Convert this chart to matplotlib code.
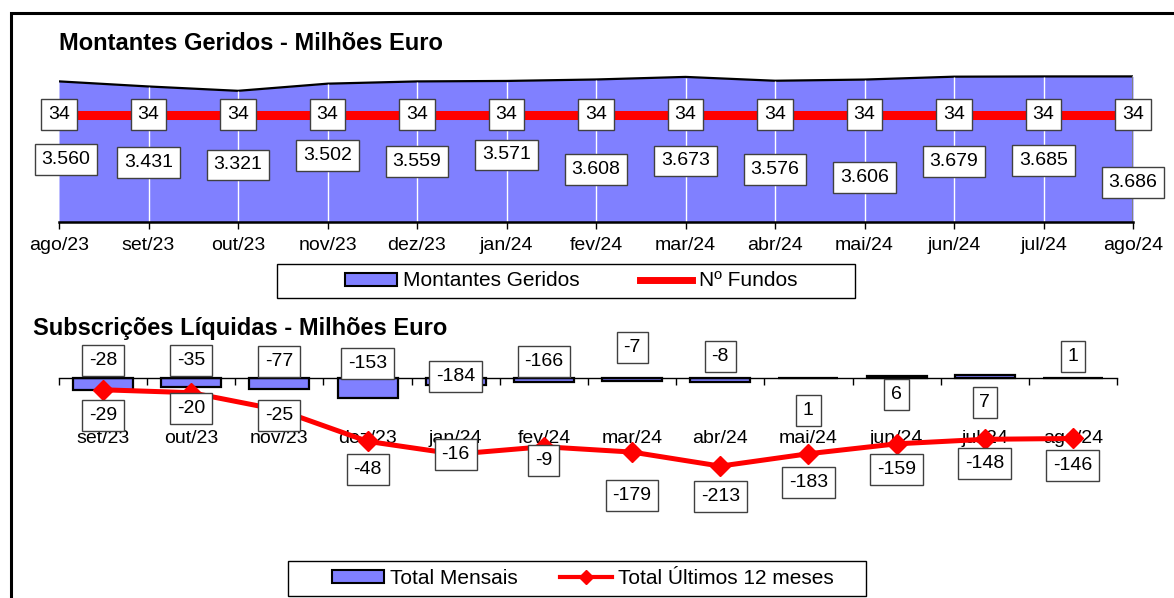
import numpy as np
import matplotlib.pyplot as plt
from matplotlib.patches import Rectangle, Patch
from matplotlib.lines import Line2D

plt.rcParams['font.family'] = ['Liberation Sans', 'DejaVu Sans']

# dados - montantes geridos
meses_top = ["ago/23", "set/23", "out/23", "nov/23", "dez/23", "jan/24", "fev/24",
             "mar/24", "abr/24", "mai/24", "jun/24", "jul/24", "ago/24"]
montantes = [3560, 3431, 3321, 3502, 3559, 3571, 3608, 3673, 3576, 3606, 3679, 3685, 3686]
n_fundos = [34, 34, 34, 34, 34, 34, 34, 34, 34, 34, 34, 34, 34]

# dados - subscricoes liquidas
meses_bot = ["set/23", "out/23", "nov/23", "dez/23", "jan/24", "fev/24",
             "mar/24", "abr/24", "mai/24", "jun/24", "jul/24", "ago/24"]
total_mensais = [-29, -20, -25, -48, -16, -9, -7, -8, 1, 6, 7, 1]
total_12m = [-28, -35, -77, -153, -184, -166, -179, -213, -183, -159, -148, -146]

# posicao das etiquetas (pixels abaixo do ponto / da linha do zero)
mont_lab_dy = [78, 76, 74, 72, 80, 74, 90, 84, 89, 98, 85, 84, 106]
mont_lab_dx = [7, 0, 0, 0, 0, 0, 0, 0, 0, 0, 0, 0, 0]
bar_lab_dy = [37, 30, 37, 91, 76, 82, -31, -22, 32, 16, 24, -22]
line_lab_dy = [-18, -18, -17, -15, -2, -17, 117, 118, 104, 91, 85, 87]

W, H = 1174, 598
azul = '#8080FF'
fs = 14
box = dict(boxstyle='square,pad=0.35', fc='white', ec='#404040', lw=1)

def fx(px):
    return px / W

def fy(py):
    return 1 - py / H

fig = plt.figure(figsize=(W / 100, H / 100), dpi=100)

# ---------- grafico de cima ----------
ax1 = fig.add_axes([fx(59), fy(222), fx(1133) - fx(59), fy(64) - fy(222)])
x1 = np.arange(len(montantes))
ax1.fill_between(x1, 0, montantes, color=azul, lw=0, zorder=1)
ax1.plot(x1, montantes, color='black', lw=1.6, zorder=2)
ax1.vlines(x1[1:-1], 0, np.array(montantes[1:-1]) - 15, color='white', lw=1, zorder=2)
ax1.vlines(x1[-1], 0, montantes[-1], color='#808080', lw=1.5, zorder=2)
ax1.set_xlim(0, 12)
ax1.set_ylim(0, 4000)
ax1.set_yticks([])
for s in ['left', 'right', 'top']:
    ax1.spines[s].set_visible(False)
ax1.spines['bottom'].set_linewidth(1.8)
ax1.set_xticks(x1, meses_top, fontsize=fs)
ax1.tick_params(axis='x', length=5, width=1, pad=6)
for i, v in enumerate(montantes):
    ax1.annotate(f"{v:,}".replace(',', '.'), (i, v),
                 xytext=(mont_lab_dx[i], -mont_lab_dy[i]),
                 textcoords='offset pixels', ha='center', va='center', fontsize=fs,
                 bbox=box, annotation_clip=False, zorder=5)

ax1b = ax1.twinx()
ax1b.plot(x1, n_fundos, color='red', lw=6.5, zorder=3)
ax1b.set_ylim(0, 50)
ax1b.set_yticks([])
for s in ax1b.spines.values():
    s.set_visible(False)
for i, v in enumerate(n_fundos):
    ax1b.annotate(str(v), (i, v), ha='center', va='center', fontsize=fs,
                  bbox=box, annotation_clip=False, zorder=5)

fig.text(fx(59), fy(44), "Montantes Geridos - Milhões Euro", fontsize=17,
         fontweight='bold', va='center')

fig.add_artist(Rectangle((fx(277), fy(298)), fx(855) - fx(277), fy(264) - fy(298),
                         transform=fig.transFigure, fill=False, ec='black', lw=1))
h1 = [Patch(fc=azul, ec='black', lw=1.5), Line2D([], [], color='red', lw=5)]
fig.legend(h1, ["Montantes Geridos", "Nº Fundos"], loc='center', ncol=2,
           bbox_to_anchor=(fx(571), fy(281)), frameon=False, fontsize=15,
           handlelength=2.5, handleheight=0.6, handletextpad=0.3, columnspacing=2.9)

# ---------- grafico de baixo ----------
ax2 = fig.add_axes([fx(59), fy(502), fx(1117) - fx(59), fy(337) - fy(502)])
x2 = np.arange(len(total_mensais))
ax2.bar(x2, total_mensais, width=0.68, color=azul, ec='black', lw=1.6, zorder=2)
ax2.plot(x2, total_12m, color='red', lw=3.6, marker='D', ms=10, zorder=3)
ax2.set_xlim(-0.5, 11.5)
ax2.set_ylim(-300, 100)
ax2.set_yticks([])
for s in ['left', 'right', 'top']:
    ax2.spines[s].set_visible(False)
ax2.spines['bottom'].set_position(('data', 0))
ax2.spines['bottom'].set_linewidth(1)
ax2.set_xticks(x2, meses_bot, fontsize=fs)
ax2.tick_params(axis='x', which='major', length=0, pad=37)
ax2.set_xticks(np.arange(-0.5, 12), minor=True)
ax2.tick_params(axis='x', which='minor', length=5, width=1)
for i in x2:
    ax2.annotate(str(total_mensais[i]), (i, 0), xytext=(0, -bar_lab_dy[i]),
                 textcoords='offset pixels', ha='center', va='center', fontsize=fs,
                 bbox=box, annotation_clip=False, zorder=5)
    ax2.annotate(str(total_12m[i]), (i, 0), xytext=(0, -line_lab_dy[i]),
                 textcoords='offset pixels', ha='center', va='center', fontsize=fs,
                 bbox=box, annotation_clip=False, zorder=5)

fig.text(fx(33), fy(329), "Subscrições Líquidas - Milhões Euro", fontsize=17,
         fontweight='bold', va='center')

fig.add_artist(Rectangle((fx(288), fy(596)), fx(866) - fx(288), fy(561) - fy(596),
                         transform=fig.transFigure, fill=False, ec='black', lw=1))
h2 = [Patch(fc=azul, ec='black', lw=1.5),
      Line2D([], [], color='red', lw=3, marker='D', ms=7)]
fig.legend(h2, ["Total Mensais", "Total Últimos 12 meses"], loc='center', ncol=2,
           bbox_to_anchor=(fx(583), fy(578)), frameon=False, fontsize=15,
           handlelength=2.5, handleheight=0.6, handletextpad=0.3, columnspacing=2.0)

# moldura
fig.add_artist(Rectangle((fx(11), -0.05), 1.1, fy(13) + 0.05, transform=fig.transFigure,
                         fill=False, ec='black', lw=2.2))

fig.savefig("out.png", dpi=100)
